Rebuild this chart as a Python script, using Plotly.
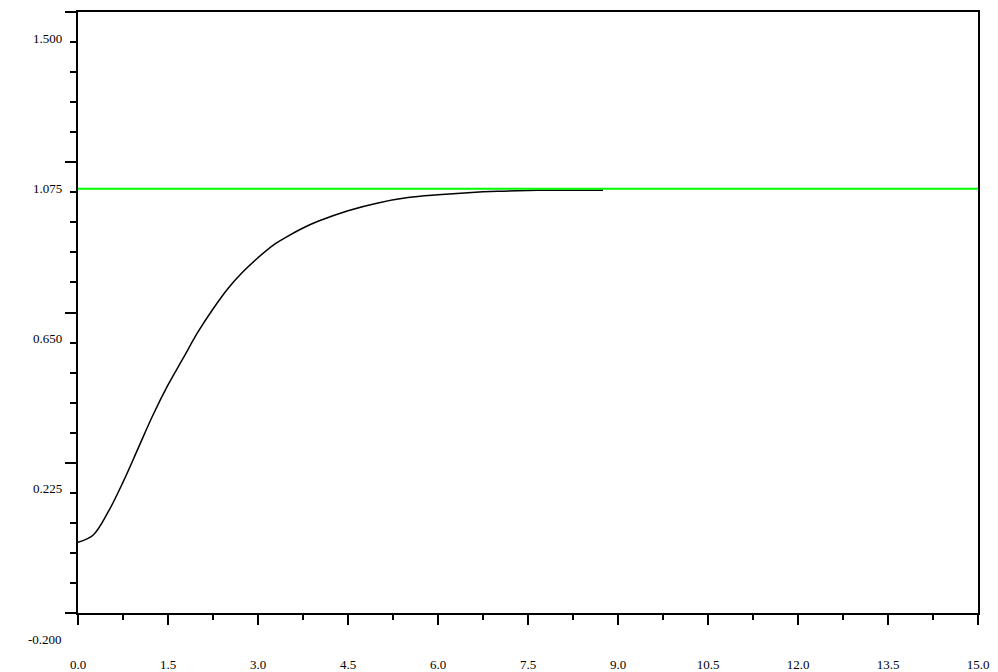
import plotly.graph_objects as go

# Step response
t_vals = [0, 0.25, 0.5, 0.75, 1.0, 1.25, 1.5, 1.75, 2.0, 2.25, 2.5, 2.75, 3.0, 3.25, 3.5,
          3.75, 4.0, 4.5, 5.0, 5.5, 6.0, 6.5, 7.0, 7.5, 8.0, 8.75]
y_vals = [0.0, 0.02, 0.085, 0.17, 0.265, 0.36, 0.445, 0.52, 0.595, 0.66, 0.718, 0.765, 0.805,
          0.84, 0.866, 0.889, 0.908, 0.938, 0.96, 0.975, 0.983, 0.989, 0.993, 0.995, 0.996,
          0.996]

# Reference (set-point) line
ref_t = [0, 15]
ref_y = [1.0, 1.0]

x_range = [0, 15]
y_range = [-0.2, 1.5]
x_ticks = [0, 1.5, 3.0, 4.5, 6.0, 7.5, 9.0, 10.5, 12.0, 13.5, 15.0]
x_tick_labels = ["0.0", "1.5", "3.0", "4.5", "6.0", "7.5", "9.0", "10.5", "12.0", "13.5", "15.0"]
y_ticks = [1.5, 1.075, 0.65, 0.225, -0.2]
y_tick_labels = ["1.500", "1.075", "0.650", "0.225", "-0.200"]
y_minor_step = 0.085
x_minor = [0.75 + 1.5 * i for i in range(10)]
y_minor = [round(-0.2 + y_minor_step * i, 4) for i in range(21) if i % 5 != 0]

font = dict(family="Liberation Serif", size=13, color="#000000")

fig = go.Figure()
fig.add_trace(go.Scatter(x=t_vals, y=y_vals, mode="lines", line_shape="spline",
                         line=dict(color="#000000", width=1.5), hoverinfo="skip"))
fig.add_trace(go.Scatter(x=ref_t, y=ref_y, mode="lines",
                         line=dict(color="#00ff00", width=2), hoverinfo="skip"))

axis_common = dict(showgrid=False, zeroline=False, showline=True, linecolor="#000000",
                   linewidth=1.5, mirror=True, ticks="outside", tickcolor="#000000",
                   tickwidth=1.5, tickfont=font, automargin=False)

fig.update_xaxes(range=x_range, tickmode="array", tickvals=x_ticks, ticktext=x_tick_labels,
                 ticklen=10, ticklabelstandoff=29,
                 minor=dict(tickvals=x_minor, ticklen=5, tickwidth=1.5, tickcolor="#000000",
                            ticks="outside"),
                 **axis_common)
fig.update_yaxes(range=y_range, tickmode="array", tickvals=y_ticks, ticklen=11,
                 showticklabels=False,
                 minor=dict(tickvals=y_minor, ticklen=6, tickwidth=1.5, tickcolor="#000000",
                            ticks="outside"),
                 **axis_common)

# tick labels are drawn one minor step below their major ticks, as in the reference
span = y_range[1] - y_range[0]
for v, lab in zip(y_ticks, y_tick_labels):
    fig.add_annotation(x=0, xref="paper", xanchor="right", xshift=-14,
                       y=(v - y_minor_step - y_range[0]) / span, yref="paper",
                       yanchor="middle", yshift=4,
                       text=lab, showarrow=False, font=font)

fig.update_layout(width=998, height=672, showlegend=False,
                  margin=dict(l=78, r=20, t=12, b=59, autoexpand=False),
                  paper_bgcolor="#ffffff", plot_bgcolor="#ffffff")

fig.write_html("out.html", config={"displayModeBar": False},
               post_script="document.body.style.margin='0';")
